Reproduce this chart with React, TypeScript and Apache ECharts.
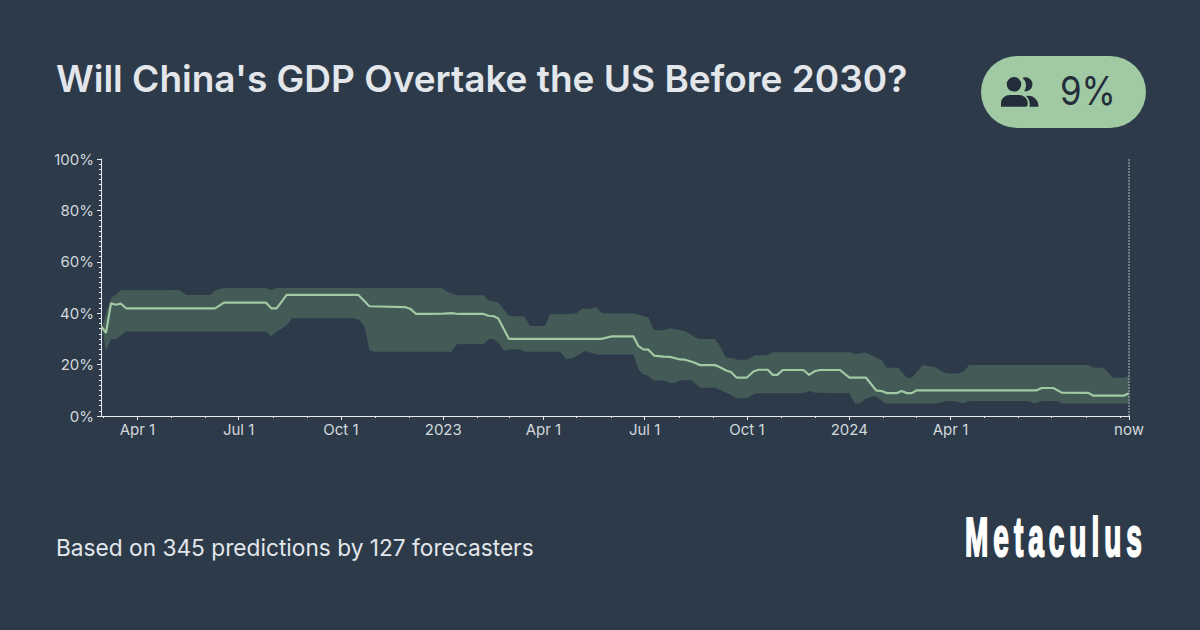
import React, { useEffect, useRef } from "react";
import * as echarts from "echarts";

const TITLE = "Will China's GDP Overtake the US Before 2030?";
const FOOTER = "Based on 345 predictions by 127 forecasters";
const BADGE = "9%";
const BRAND = "Metaculus";

const START = Date.UTC(2022, 1, 27, 7);
const SPAN_DAYS = 924.2;

const medianPoints: [number, number][] = [
  [0, 34.5], [0.9, 34.5], [4.5, 32.4], [9, 43.8], [13.5, 43.3], [18, 43.7], [22.5, 41.9], [102.5, 41.9], [110.6, 44.1],
  [148.4, 44.1], [153.1, 41.9], [157.9, 41.9], [166.9, 47.1], [231.4, 47.1], [235.9, 45.1], [241.3, 42.7], [273.3, 42.4],
  [278.4, 41.6], [283.2, 39.7], [295.8, 39.7], [307.8, 39.8], [315.3, 40], [321.3, 39.7], [343.8, 39.7], [348.3, 39],
  [352.7, 38.9], [357.2, 37.9], [366.8, 30], [450.1, 30], [459.1, 31], [478.6, 31], [483.1, 27.2], [487.6, 25.9],
  [492.1, 25.8], [497.2, 23.5], [505.6, 23.1], [511.6, 23], [520.6, 22], [525.1, 21.9], [532.6, 20.9], [538.6, 19.8],
  [552.1, 19.8], [556.5, 19], [562.5, 17.6], [566.4, 17.1], [571.5, 14.9], [580.5, 14.9], [586.5, 17.3], [591, 18],
  [599.4, 18], [603.9, 16], [608.1, 16], [612.9, 17.9], [631.5, 17.9], [636.6, 16], [642, 17.5], [646.5, 17.9],
  [664.4, 17.9], [672.8, 14.9], [687.8, 14.9], [696.8, 10], [701.9, 9.7], [706.4, 8.9], [715.4, 8.9], [719.9, 9.7],
  [724.4, 8.9], [728.9, 8.9], [733.4, 10], [841.3, 10], [845.7, 10.9], [856.2, 10.9], [863.7, 9.1], [887.7, 9],
  [892.2, 7.9], [919.2, 7.9], [924.2, 8.9],
];

const upperPoints: [number, number][] = [
  [0, 34.5], [0.9, 34.5], [4.5, 39.9], [9, 45.8], [18, 48.9], [70.1, 49], [77, 47.1], [98, 47.1], [102.5, 48.8],
  [110.6, 49.8], [148.4, 49.8], [153.1, 49], [157.9, 49.8], [306.3, 49.8], [310.8, 48.4], [319.8, 47], [343.8, 47],
  [348.3, 45], [357.2, 44.2], [366.8, 38.9], [380.6, 38.7], [385.7, 35], [399.2, 35], [403.7, 39.7], [417.2, 39.6],
  [427.7, 40], [432.2, 41.8], [439.7, 41.6], [445.7, 42.4], [450.1, 40], [478.6, 40], [492.1, 38.3], [497.2, 33.5],
  [505.6, 33.3], [511.6, 34.1], [525.1, 33], [537.1, 30], [552.1, 30], [556.5, 27], [561.9, 22.8], [567, 22.6],
  [571.5, 21.9], [580.5, 21.9], [588, 23.6], [599.4, 23.7], [604.5, 24.8], [673.4, 24.8], [677.9, 24], [686.9, 24.8],
  [701.9, 21.8], [706.4, 18.8], [716.9, 18.8], [724.4, 15], [728.9, 14.9], [738.8, 19.8], [749.9, 19], [757.3, 17],
  [761.2, 16.5], [770.8, 16.5], [775.3, 17.2], [780.4, 19.8], [887.7, 19.8], [892.2, 18.9], [901.2, 18.8], [910.2, 14.9],
  [919.2, 14.9], [924.2, 15.7],
];

const lowerPoints: [number, number][] = [
  [0, 34.5], [0.9, 34.5], [4.5, 25.3], [9, 30], [13.5, 30], [22.5, 32.9], [148.4, 32.9], [153.1, 31], [157.9, 32.8],
  [166.9, 35.2], [171.7, 38], [226.9, 38], [232.3, 37.4], [236.8, 34.8], [241.3, 25.7], [245.5, 25], [315.3, 25],
  [319.8, 27.9], [343.8, 28], [349.1, 30], [352.7, 30], [357.2, 28.5], [362.3, 25.4], [366.2, 25.9], [376.7, 25.9],
  [381.2, 25], [412.7, 25], [418.1, 22.2], [423.2, 22.4], [427.7, 23.3], [435.2, 25.3], [445.7, 23.9], [478.6, 23.9],
  [483.1, 18.2], [487.6, 16.1], [492.1, 15.6], [497.2, 13.7], [505.6, 13.8], [511.6, 12.8], [516.1, 12.9], [520.6, 13.9],
  [531.1, 13.9], [538.6, 11], [552.1, 11], [561.9, 9.1], [571.5, 6.9], [580.5, 6.9], [588, 8.8], [631.5, 8.9],
  [636.6, 9.7], [642, 9], [672.8, 8.9], [677.9, 4.9], [682.4, 4.9], [686.9, 6.5], [695.9, 7.9], [704.9, 4.9],
  [751.4, 4.9], [760.3, 5.8], [766.3, 5.8], [775.3, 5], [780.4, 5.8], [832.3, 5.8], [839.8, 4.9], [845.7, 5.8],
  [859.2, 5.8], [863.7, 4.9], [924.2, 4.9],
];

const majorTicks: [number, number, number, string][] = [
  [2022, 3, 1, "Apr 1"], [2022, 6, 1, "Jul 1"], [2022, 9, 1, "Oct 1"], [2023, 0, 1, "2023"],
  [2023, 3, 1, "Apr 1"], [2023, 6, 1, "Jul 1"], [2023, 9, 1, "Oct 1"], [2024, 0, 1, "2024"], [2024, 3, 1, "Apr 1"],
];
const minorMonths: [number, number][] = [
  [2022, 2], [2022, 4], [2022, 5], [2022, 7], [2022, 8], [2022, 10], [2022, 11],
  [2023, 1], [2023, 2], [2023, 4], [2023, 5], [2023, 7], [2023, 8], [2023, 10], [2023, 11],
  [2024, 1], [2024, 2], [2024, 4], [2024, 5], [2024, 6], [2024, 7], [2024, 8],
];

const BG = "#2c3a49";
const GREEN = "#a1c9a3";
const BAND = "#435a56";
const TEXT = "#e3e7eb";
const AXIS = "#e8ebee";
const LABEL = "#d3d8dd";
const DARK = "#232e3a";
const FONT = "Inter, 'Noto Sans', sans-serif";

const toTime = (d: number) => START + d * 86400000;
const END = toTime(SPAN_DAYS);

echarts.graphic.registerShape(
  "usersIcon",
  echarts.graphic.extendPath(
    "M1 22.7 V19 A9 8 0 0 1 10 11 H18.7 A9 8 0 0 1 27.7 19 V20.5 A2.2 2.2 0 0 1 25.5 22.7 H3 Z " +
      "M26 12 A10 10 0 0 1 38.3 22.7 H29.5 A12 12 0 0 0 26 12 Z " +
      "M22.5 -6 A7 7 0 1 1 24 7.2 A9.5 9.5 0 0 0 22.5 -6 Z " +
      "M21.3 0.3 A7.3 7.3 0 1 1 6.7 0.3 A7.3 7.3 0 1 1 21.3 0.3 Z",
    {}
  )
);

export default function App() {
  const ref = useRef<HTMLDivElement>(null);
  useEffect(() => {
    document.body.style.margin = "0";
    const chart = echarts.init(ref.current!, undefined, { renderer: "svg" });
    const majorValues = majorTicks.map(([y, m, d]) => Date.UTC(y, m, d));
    const labelMap = new Map<number, string>(majorTicks.map(([y, m, d, l]) => [Date.UTC(y, m, d), l]));
    const common = { type: "value" as const, min: START, max: END, position: "bottom" as const, scale: true };
    chart.setOption({
      animation: false,
      backgroundColor: BG,
      grid: { left: 101, top: 159, width: 1028, height: 257, containLabel: false },
      xAxis: [
        {
          ...common,
          axisLine: { show: true, lineStyle: { color: AXIS, width: 1 } },
          axisTick: { show: true, customValues: [...majorValues, END], length: 4, lineStyle: { color: AXIS } },
          axisLabel: {
            show: true,
            customValues: [...majorValues, END],
            formatter: (v: number) => labelMap.get(v) ?? "now",
            color: LABEL,
            fontFamily: FONT,
            fontSize: 15,
            margin: 6,
            hideOverlap: false,
          },
          splitLine: { show: false },
        },
        {
          ...common,
          axisLine: { show: false },
          axisTick: {
            show: true,
            customValues: minorMonths.map(([y, m]) => Date.UTC(y, m, 1)),
            length: 2,
            lineStyle: { color: AXIS },
          },
          axisLabel: { show: false },
          splitLine: { show: false },
        },
      ],
      yAxis: {
        type: "value",
        min: 0,
        max: 100,
        interval: 20,
        axisLine: { show: true, lineStyle: { color: AXIS, width: 1 } },
        axisTick: { show: true, length: 4, lineStyle: { color: AXIS } },
        minorTick: { show: true, splitNumber: 10, length: 2, lineStyle: { color: AXIS } },
        splitLine: { show: false },
        minorSplitLine: { show: false },
        axisLabel: { formatter: "{value}%", color: LABEL, fontFamily: FONT, fontSize: 15, margin: 7 },
      },
      series: [
        {
          type: "custom",
          name: "band",
          silent: true,
          clip: true,
          z: 2,
          data: [[START, 0]],
          renderItem: (_p: any, api: any) => ({
            type: "polygon",
            shape: {
              points: [
                ...upperPoints.map(([d, v]) => api.coord([toTime(d), v])),
                ...[...lowerPoints].reverse().map(([d, v]) => api.coord([toTime(d), v])),
              ],
            },
            style: { fill: BAND },
          }),
        },
        {
          type: "line",
          name: "median",
          z: 3,
          showSymbol: false,
          symbol: "none",
          data: medianPoints.map(([d, v]) => [toTime(d), v]),
          lineStyle: { color: GREEN, width: 2.2 },
          markLine: {
            silent: true,
            symbol: "none",
            label: { show: false },
            lineStyle: { color: "#87919b", type: [2, 1], width: 1.5 },
            data: [{ xAxis: END }],
          },
        },
      ],
      graphic: [
        {
          type: "text",
          x: 56,
          y: 78,
          style: { text: TITLE, fill: TEXT, font: `600 37px ${FONT}`, textVerticalAlign: "middle" },
        },
        {
          type: "rect",
          shape: { x: 981, y: 56, width: 165, height: 72, r: 36 },
          style: { fill: GREEN },
        },
        { type: "usersIcon", x: 1000, y: 84, style: { fill: DARK } },
        {
          type: "text",
          x: 1060,
          y: 91,
          scaleX: 0.87,
          style: { text: BADGE, fill: DARK, font: `400 40px ${FONT}`, textVerticalAlign: "middle" },
        },
        {
          type: "text",
          x: 56,
          y: 547,
          style: { text: FOOTER, fill: TEXT, font: `400 22.7px ${FONT}`, textVerticalAlign: "middle" },
        },
        {
          type: "text",
          x: 965,
          y: 536,
          scaleX: 0.5,
          style: {
            text: BRAND,
            fill: "#ffffff",
            stroke: "#ffffff",
            lineWidth: 2.2,
            font: "700 56px 'Liberation Sans', sans-serif",
            textVerticalAlign: "middle",
          },
        },
      ],
    });
    ref.current!.querySelectorAll("text").forEach((t) => {
      if (t.textContent === BRAND) t.style.letterSpacing = "10px";
    });
    return () => chart.dispose();
  }, []);
  return <div ref={ref} style={{ position: "absolute", left: 0, top: 0, width: 1200, height: 630 }} />;
}
